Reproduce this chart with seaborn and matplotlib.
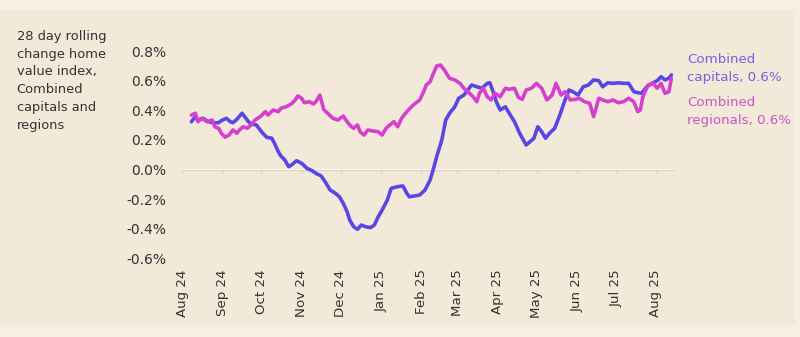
import numpy as np
import pandas as pd
import matplotlib
matplotlib.use("Agg")
import matplotlib.pyplot as plt
import matplotlib.dates as mdates
from matplotlib.patches import Rectangle
import seaborn as sns

# ---------------- data (days since 2024-08-01, % change) ----------------
start_date = "2024-08-01"
cap_days = [7, 10, 12, 16, 20, 24, 28, 30, 34, 37, 39, 42, 46, 48, 51, 53, 57, 60, 62, 65,
            69, 71, 74, 76, 79, 82, 84, 88, 92, 96, 100, 103, 107, 110, 114, 118, 121, 124,
            127, 129, 132, 135, 138, 141, 145, 148, 151, 154, 158, 161, 166, 170, 173, 175,
            179, 183, 187, 191, 194, 196, 200, 203, 206, 210, 213, 217, 220, 223, 227, 231,
            235, 237, 240, 242, 245, 249, 252, 256, 260, 265, 268, 271, 274, 277, 280, 283,
            287, 291, 295, 298, 301, 305, 309, 313, 317, 321, 324, 328, 332, 336, 340, 344,
            348, 351, 354, 358, 362, 366, 369, 372, 375, 377]
cap_vals = [0.323, 0.357, 0.334, 0.346, 0.323, 0.316, 0.316, 0.330, 0.346, 0.323, 0.316,
            0.339, 0.380, 0.357, 0.323, 0.307, 0.301, 0.267, 0.245, 0.218, 0.211, 0.177,
            0.120, 0.091, 0.064, 0.019, 0.030, 0.059, 0.042, 0.008, -0.008, -0.026, -0.044,
            -0.082, -0.139, -0.161, -0.184, -0.228, -0.285, -0.341, -0.386, -0.404, -0.375,
            -0.386, -0.393, -0.375, -0.319, -0.274, -0.206, -0.127, -0.116, -0.111, -0.161,
            -0.184, -0.179, -0.172, -0.139, -0.071, 0.019, 0.086, 0.199, 0.334, 0.380, 0.424,
            0.481, 0.503, 0.537, 0.571, 0.559, 0.549, 0.582, 0.586, 0.515, 0.458, 0.402,
            0.424, 0.380, 0.323, 0.245, 0.166, 0.188, 0.211, 0.289, 0.255, 0.211, 0.245,
            0.278, 0.368, 0.470, 0.537, 0.526, 0.503, 0.559, 0.571, 0.605, 0.600, 0.559,
            0.586, 0.582, 0.586, 0.582, 0.582, 0.526, 0.519, 0.515, 0.559, 0.582, 0.600,
            0.627, 0.605, 0.616, 0.639]

reg_days = [7, 10, 12, 15, 19, 23, 25, 28, 30, 33, 36, 39, 42, 44, 47, 50, 53, 56, 60, 64,
            66, 70, 74, 76, 80, 84, 87, 89, 92, 94, 98, 101, 103, 106, 109, 112, 116, 120,
            124, 127, 129, 132, 135, 137, 140, 143, 147, 151, 154, 157, 160, 163, 166, 169,
            173, 178, 183, 186, 188, 191, 193, 196, 199, 202, 206, 210, 214, 217, 220, 224,
            227, 229, 232, 235, 238, 241, 245, 249, 252, 256, 259, 262, 265, 269, 273, 277,
            281, 285, 288, 292, 295, 299, 303, 306, 310, 314, 317, 321, 324, 328, 332, 336,
            340, 344, 348, 351, 353, 355, 359, 363, 366, 369, 372, 375, 377]
reg_vals = [0.368, 0.380, 0.323, 0.346, 0.323, 0.334, 0.289, 0.278, 0.245, 0.218, 0.233,
            0.267, 0.245, 0.267, 0.289, 0.278, 0.301, 0.334, 0.357, 0.391, 0.368, 0.402,
            0.391, 0.414, 0.424, 0.443, 0.470, 0.497, 0.481, 0.451, 0.458, 0.443, 0.458,
            0.503, 0.405, 0.380, 0.346, 0.334, 0.361, 0.323, 0.301, 0.278, 0.301, 0.255,
            0.233, 0.267, 0.260, 0.255, 0.233, 0.278, 0.301, 0.323, 0.289, 0.346, 0.391,
            0.436, 0.470, 0.526, 0.571, 0.593, 0.639, 0.699, 0.706, 0.672, 0.616, 0.605,
            0.582, 0.549, 0.526, 0.492, 0.458, 0.515, 0.549, 0.492, 0.470, 0.515, 0.492,
            0.549, 0.542, 0.549, 0.488, 0.474, 0.537, 0.549, 0.582, 0.549, 0.470, 0.503,
            0.582, 0.503, 0.526, 0.470, 0.474, 0.481, 0.458, 0.447, 0.357, 0.481, 0.470,
            0.458, 0.470, 0.451, 0.458, 0.481, 0.458, 0.391, 0.402, 0.492, 0.571, 0.582,
            0.549, 0.582, 0.515, 0.526, 0.616]

series_names = ["Combined capitals", "Combined regionals"]
end_labels = ["Combined\ncapitals, 0.6%", "Combined\nregionals, 0.6%"]
y_ticks = [-0.6, -0.4, -0.2, 0.0, 0.2, 0.4, 0.6, 0.8]
title_text = "28 day rolling\nchange home\nvalue index,\nCombined\ncapitals and\nregions"

# ---------------- styling ----------------
PANEL = "#f2e9d8"
OUTER = "#f6f0e4"
TEXT = "#333333"
C_CAP = "#5a46e4"
C_REG = "#d640cf"
L_CAP = "#7a60e2"
L_REG = "#c955c6"

sns.set_theme(style="white")
plt.rcParams["font.family"] = ["DejaVu Sans"]

t0 = pd.Timestamp(start_date)
df = pd.concat([
    pd.DataFrame({"date": t0 + pd.to_timedelta(cap_days, unit="D"),
                  "value": cap_vals, "series": series_names[0]}),
    pd.DataFrame({"date": t0 + pd.to_timedelta(reg_days, unit="D"),
                  "value": reg_vals, "series": series_names[1]}),
])

fig = plt.figure(figsize=(8, 3.37), dpi=100, facecolor=OUTER)
fig.patches.append(Rectangle((0, 1 - 325 / 337), 795 / 800, (325 - 10) / 337,
                             transform=fig.transFigure, facecolor=PANEL,
                             edgecolor="none", zorder=-10))

ax = fig.add_axes([181.7 / 800, 1 - 258.3 / 337, (673 - 181.7) / 800, (258.3 - 51.1) / 337])
ax.set_facecolor("none")
ax.set_zorder(5)

sns.lineplot(data=df, x="date", y="value", hue="series", hue_order=series_names,
             palette=[C_CAP, C_REG], linewidth=2.6, legend=False, ax=ax)

ax.set_xlim(pd.Timestamp("2024-07-31 12:00"), pd.Timestamp("2025-08-14 05:00"))
ax.set_ylim(-0.6, 0.8)
ax.set_yticks(y_ticks)
ax.set_yticklabels([f"{v:.1f}%" for v in y_ticks])
months = pd.date_range("2024-08-01", "2025-08-01", freq="MS")
ax.set_xticks(months)
ax.set_xticklabels([m.strftime("%b %y") for m in months], rotation=90)
ax.set_xlabel("")
ax.set_ylabel("")
for s in ax.spines.values():
    s.set_visible(False)
ax.tick_params(axis="x", length=0, pad=8, labelsize=9.6, labelcolor=TEXT)
ax.tick_params(axis="y", length=0, pad=11, labelsize=10, labelcolor=TEXT)
ax.grid(False)

# zero line with monthly tick marks
secax = ax.secondary_xaxis(0.6 / 1.4)
secax.set_xticks(mdates.date2num(months))
secax.xaxis.set_major_formatter(matplotlib.ticker.NullFormatter())
secax.spines["bottom"].set_color("#dcd4c6")
secax.spines["bottom"].set_linewidth(1.0)
secax.tick_params(axis="x", length=3, width=0.9, color="#dcd4c6", direction="out")

fig.text(16.7 / 800, 1 - 30 / 337, title_text, ha="left", va="top",
         fontsize=9.4, color=TEXT, linespacing=1.47)

ax.text(1.0285, 0.915, end_labels[0], transform=ax.transAxes, ha="left", va="center",
        fontsize=9.6, color=L_CAP, linespacing=1.5)
ax.text(1.0285, 0.707, end_labels[1], transform=ax.transAxes, ha="left", va="center",
        fontsize=9.6, color=L_REG, linespacing=1.5)

fig.savefig("out.png", dpi=100, facecolor=OUTER)
